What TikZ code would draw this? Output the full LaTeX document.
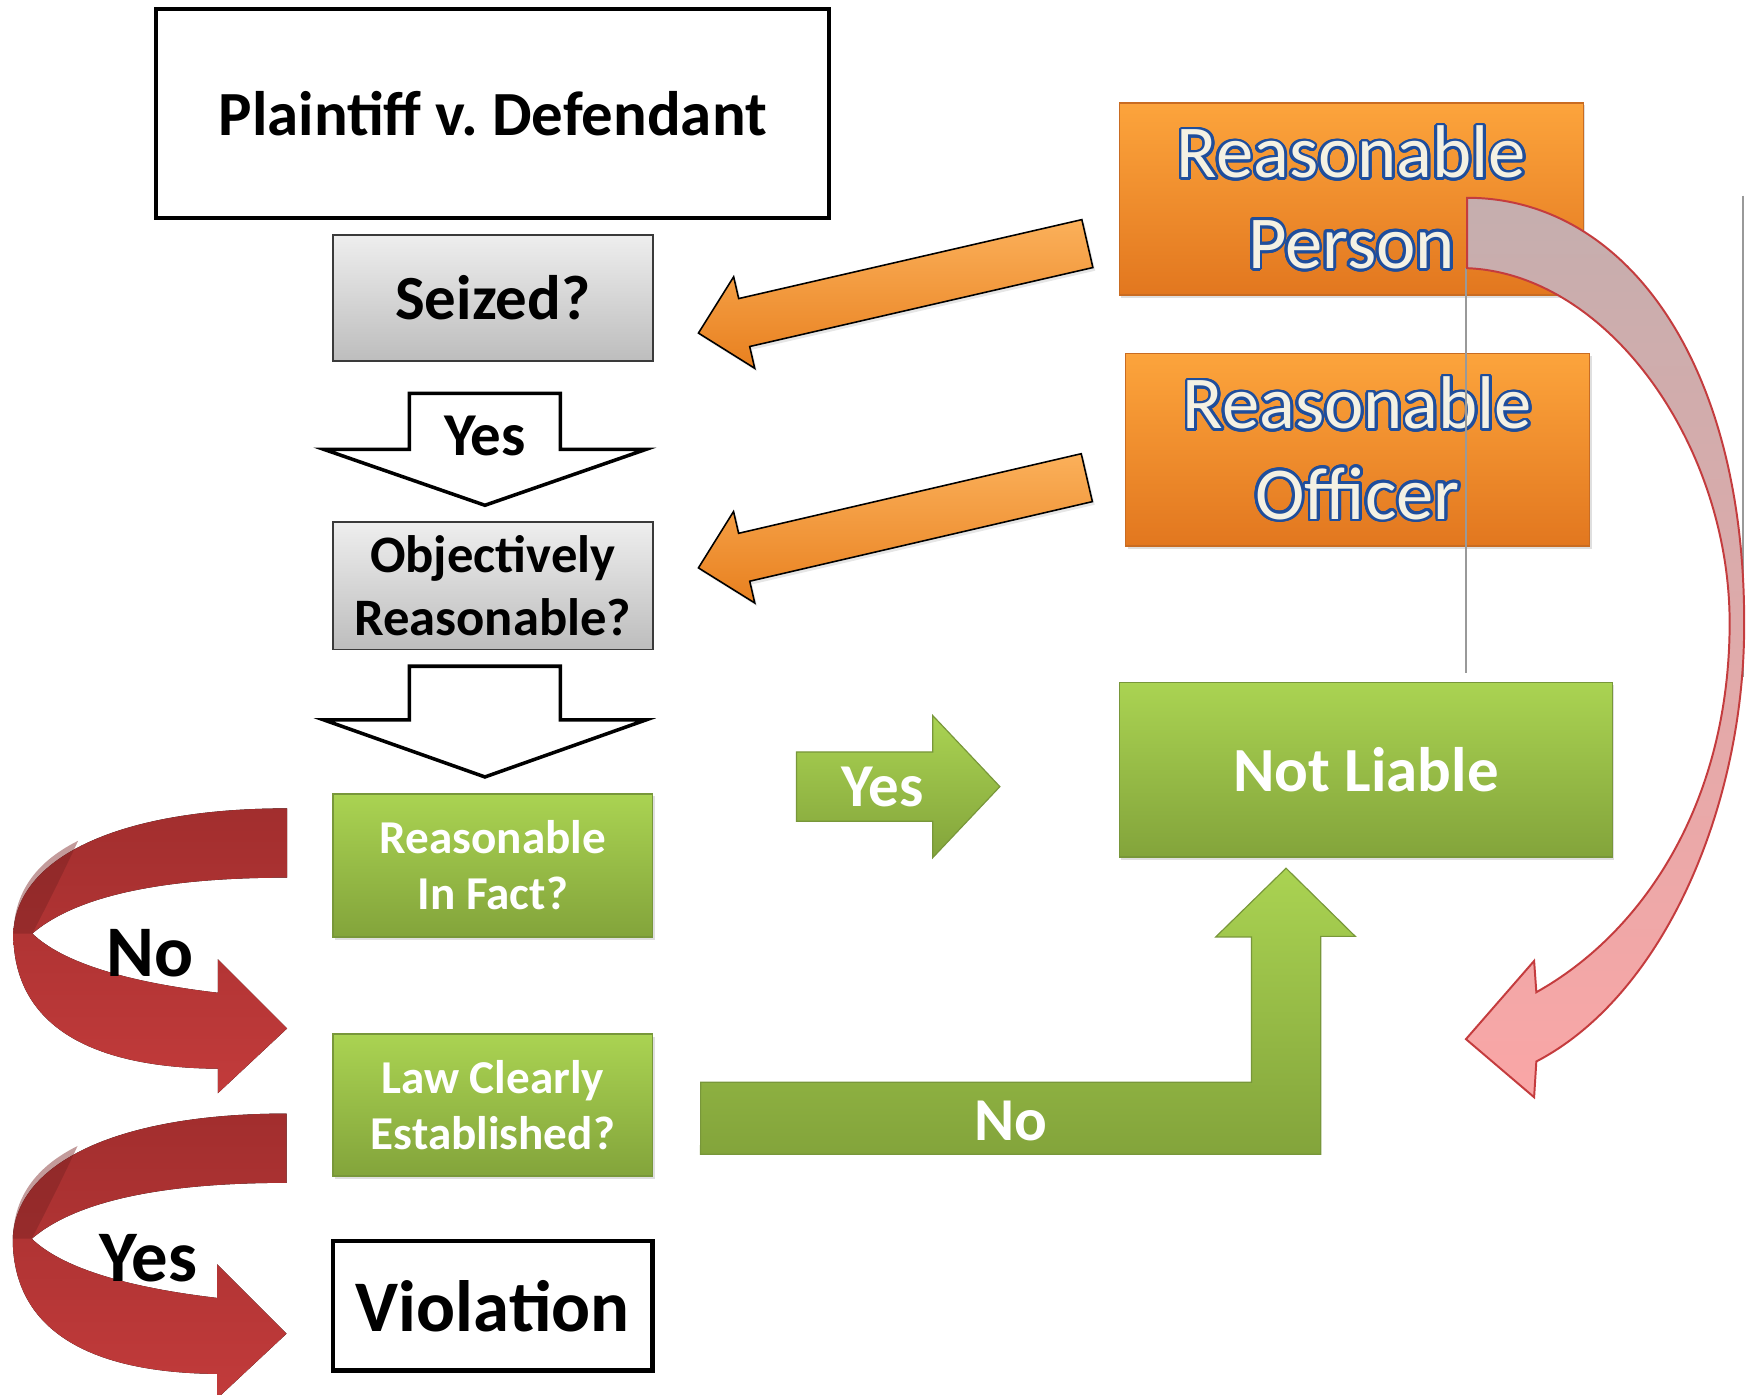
\documentclass[tikz,border=0pt]{standalone}
\usepackage{fontspec}
\setmainfont{Carlito}
\usepackage[copies]{contour}
\usetikzlibrary{calc,positioning,shadows}
\definecolor{greytop}{HTML}{EEEEEE}
\definecolor{greybot}{HTML}{BDBDBD}
\definecolor{greyline}{HTML}{3A3A3A}
\definecolor{greentop}{HTML}{AAD352}
\definecolor{greenbot}{HTML}{83A43B}
\definecolor{greenline}{HTML}{78973A}
\definecolor{orangetop}{HTML}{FCA43C}
\definecolor{orangebot}{HTML}{E2771F}
\definecolor{orangeline}{HTML}{C96C22}
\definecolor{arrowtop}{HTML}{FBB05A}
\definecolor{arrowbot}{HTML}{E8801F}
\definecolor{swirlred}{HTML}{C23B3B}
\definecolor{swirldark}{HTML}{A22E2E}
\definecolor{pinktop}{HTML}{C5AEAE}
\definecolor{pinkbot}{HTML}{FAA6A6}
\definecolor{pinkline}{HTML}{C43C3E}
\definecolor{capcream}{HTML}{F4F1E3}
\definecolor{capblue}{HTML}{1F4E9C}
\contourlength{0.7pt}
\contournumber{24}
% flat block arrow: style, tail, tip, shaft half width, head half width, head length
\newcommand{\flatarrow}[6]{%
  \coordinate (fah) at ($(#3)!#6!(#2)$);
  \draw[#1] ($(#2)!#4!90:(#3)$) -- ($(fah)!#4!90:(#3)$) -- ($(fah)!#5!90:(#3)$)
    -- (#3) -- ($(fah)!#5!-90:(#3)$) -- ($(fah)!#4!-90:(#3)$) -- ($(#2)!#4!-90:(#3)$) -- cycle;
}
\tikzset{
  box/.style={minimum width=2.86cm, inner sep=0pt, outer sep=0pt, align=center,
    font=\bfseries\fontsize{16}{19}\selectfont},
  titlebox/.style={box, draw=black, line width=1pt, fill=white,
    minimum width=6.02cm, minimum height=1.87cm},
  greybox/.style={box, draw=greyline, line width=0.5pt, top color=greytop, bottom color=greybot},
  greenbox/.style={box, draw=greenline, line width=0.4pt, top color=greentop, bottom color=greenbot,
    text=white, font=\bfseries\fontsize{12}{14.4}\selectfont,
    drop shadow={shadow xshift=0.5pt, shadow yshift=-0.7pt, opacity=0.25}},
  violbox/.style={box, draw=black, line width=1.1pt, fill=white,
    font=\bfseries\fontsize{18.5}{22}\selectfont},
  orangebox/.style={draw=orangeline, line width=0.4pt, top color=orangetop, bottom color=orangebot,
    minimum width=4.15cm, minimum height=1.72cm, inner sep=0pt, align=center, text=capcream,
    font=\fontsize{19}{23}\selectfont,
    drop shadow={shadow xshift=0.5pt, shadow yshift=-0.7pt, opacity=0.25}},
  hollowarrow/.style={draw=black, line width=0.9pt, fill=white, line join=miter},
  orangearrow/.style={top color=arrowtop, bottom color=arrowbot,
    drop shadow={shadow xshift=0.6pt, shadow yshift=-0.8pt, opacity=0.2}},
  greenarrow/.style={top color=greentop, bottom color=greenbot, draw=greenline, line width=0.3pt},
  pinkarrow/.style={top color=pinktop, bottom color=pinkbot, draw=pinkline, line width=0.5pt},
  swirllabel/.style={font=\bfseries\fontsize{18.5}{22}\selectfont},
  arrowlabel/.style={text=white, font=\bfseries\fontsize{15.5}{18}\selectfont},
  seamline/.style={draw=black!40, line width=0.3pt},
  redswirl/.pic={
    \fill[top color=swirldark, bottom color=swirlred]
      (0,-197) .. controls (-147,-197) and (-242,-155) .. (-245,-85)
      .. controls (-245,-10) and (-187,35) .. (-62,36) -- (-62,58) -- (0,0) -- (-62,-62) -- (-62,-32)
      .. controls (-147,-42) and (-202,-60) .. (-228,-85)
      .. controls (-187,-120) and (-107,-135) .. (0,-135) -- cycle;
    \fill[swirldark!75!black, opacity=0.45]
      (-245,-85) .. controls (-244,-120) and (-227,-148) .. (-187,-168)
      .. controls (-200,-140) and (-215,-110) .. (-228,-85) -- cycle;
  }
}
\begin{document}
\begin{tikzpicture}[x=0.01cm, y=-0.01cm]
  \useasboundingbox (0,0) rectangle (1568,1248);
  \node[titlebox] (title) at (441,101.5) {Plaintiff v.\ Defendant};
  \node[greybox, minimum height=1.13cm, below=0.15cm of title] (seized) {Seized?};
  \node[greybox, minimum height=1.14cm, below=1.44cm of seized,
    font=\bfseries\fontsize{13.4}{16}\selectfont] (objr) {Objectively\\Reasonable?};
  \node[greenbox, minimum height=1.28cm, below=1.29cm of objr] (rif) {Reasonable\\In Fact?};
  \node[greenbox, minimum height=1.27cm, below=0.87cm of rif] (law) {Law Clearly\\Established?};
  \node[violbox, minimum height=1.16cm, below=0.58cm of law] (viol) {Violation};

  \node[orangebox] (rperson) at (1209.5,178) {\contour{capblue}{Reasonable}\\\contour{capblue}{Person}};
  \node[orangebox] (rofficer) at (1215,402.5) {\contour{capblue}{Reasonable}\\\contour{capblue}{Officer}};
  \node[greenbox, minimum width=4.41cm, minimum height=1.56cm,
    font=\bfseries\fontsize{16}{19}\selectfont] (notliable) at (1222.5,689) {Not Liable};

  \coordinate (d1tail) at ($(seized.south)+(-7,29)$);
  \coordinate (d1tip) at ($(objr.north)+(-7,-15)$);
  \coordinate (d2tail) at ($(objr.south)+(-7,15)$);
  \coordinate (d2tip) at ($(rif.north)+(-7,-15)$);
  \flatarrow{hollowarrow}{d1tail}{d1tip}{0.675cm}{1.44cm}{0.5cm}
  \flatarrow{hollowarrow}{d2tail}{d2tip}{0.675cm}{1.44cm}{0.51cm}
  \node[font=\bfseries\fontsize{15.5}{18}\selectfont] (yesdown) at ($(seized.south)+(-7,67)$) {Yes};

  \coordinate (o1tail) at ($(rperson.west)+(-28,40)$);
  \coordinate (o1tip) at ($(seized.east)+(41,31.5)$);
  \coordinate (o2tail) at ($(rofficer.west)+(-34,25)$);
  \coordinate (o2tip) at ($(objr.east)+(41,-16)$);
  \flatarrow{orangearrow}{o1tail}{o1tip}{0.22cm}{0.42cm}{0.42cm}
  \flatarrow{orangearrow}{o2tail}{o2tip}{0.22cm}{0.42cm}{0.42cm}

  \coordinate (gtail) at ($(notliable.west)+(-289,15)$);
  \coordinate (gtip) at ($(notliable.west)+(-107,15)$);
  \flatarrow{greenarrow}{gtail}{gtip}{0.31cm}{0.635cm}{0.6cm}
  \node[arrowlabel] (yesright) at ($(gtail)+(77,0)$) {Yes};

  \coordinate (lstart) at ($(law.east)+(43,-20.5)$);
  \coordinate (ltip) at ($(notliable.south)+(-71.5,10)$);
  \draw[greenarrow] (lstart) -- ++(493,0) -- ++(0,-130) -- ++(-32,0) -- (ltip) -- ++(62,61)
    -- ++(-31,0) -- ++(0,195) -- ++(-555,0) -- cycle;
  \node[arrowlabel] (noright) at ($(lstart)+(278,35)$) {No};

  \pic at ($(law.north west)+(-41,-5)$) {redswirl};
  \pic at ($(viol.west)+(-41.5,25)$) {redswirl};
  \node[swirllabel] (noleft) at (134,853) {No};
  \node[swirllabel] (yesleft) at (133,1126) {Yes};

  \draw[seamline] (1312,240) -- (1312,602);
  \draw[seamline] (1560,175) -- (1560,606);
  \draw[pinkarrow] (1313,177) .. controls (1455,177) and (1562,325) .. (1561,560)
    .. controls (1561,720) and (1490,890) .. (1375,950) -- (1373,982) -- (1312,930) -- (1373,860)
    -- (1375,888) .. controls (1470,835) and (1547,720) .. (1548,560)
    .. controls (1549,400) and (1440,245) .. (1313,240) -- cycle;
\end{tikzpicture}
\end{document}
